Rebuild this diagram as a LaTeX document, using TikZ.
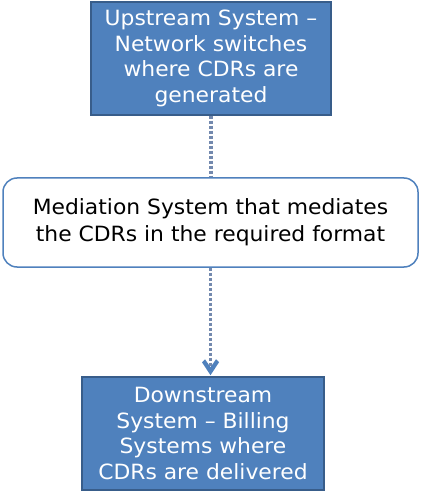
\documentclass[tikz,border=0pt]{standalone}
\usepackage{fontspec}
\setmainfont[FakeStretch=1.04]{DejaVu Sans}
\usetikzlibrary{arrows.meta}
\definecolor{boxblue}{HTML}{4F81BD}
\definecolor{boxedge}{HTML}{385D8A}
\definecolor{linkcol}{HTML}{7389AE}
\tikzset{
  bluebox/.style={draw=boxedge, line width=1.5pt, fill=boxblue, text=white, inner sep=0pt, align=center, font=\fontsize{21}{25.5}\selectfont},
  midbox/.style={draw=boxblue, line width=1.5pt, fill=white, rounded corners=14pt, inner sep=0pt, align=center, font=\fontsize{21}{27}\selectfont},
  link/.style={draw=linkcol, line width=3.3pt, dash pattern=on 3pt off 2pt},
  chevron/.style={fill=boxblue}
}
\begin{document}
\begin{tikzpicture}[x=1pt,y=1pt]
\useasboundingbox (0,0) rectangle (423,-494);
\node[bluebox, minimum width=240pt, minimum height=113pt] (up) at (211,-58.5) {Upstream System –\\Network switches\\where CDRs are\\generated};
\node[midbox, minimum width=415pt, minimum height=89pt] (mid) at (210.5,-222.5) {Mediation System that mediates\\the CDRs in the required format};
\node[bluebox, minimum width=242pt, minimum height=113pt] (down) at (203,-433.5) {Downstream\\System – Billing\\Systems where\\CDRs are delivered};
\coordinate (tip) at (mid.south |- down.north);
\draw[link] (up.south) -- (up.south |- mid.north);
\draw[link] (mid.south) -- ([yshift=8pt]tip);
\fill[chevron] ([yshift=1pt]tip) -- ++(-8.5,13) -- ++(3,3) -- ++(5.5,-8) -- ++(5.5,8) -- ++(3,-3) -- cycle;
\end{tikzpicture}
\end{document}
